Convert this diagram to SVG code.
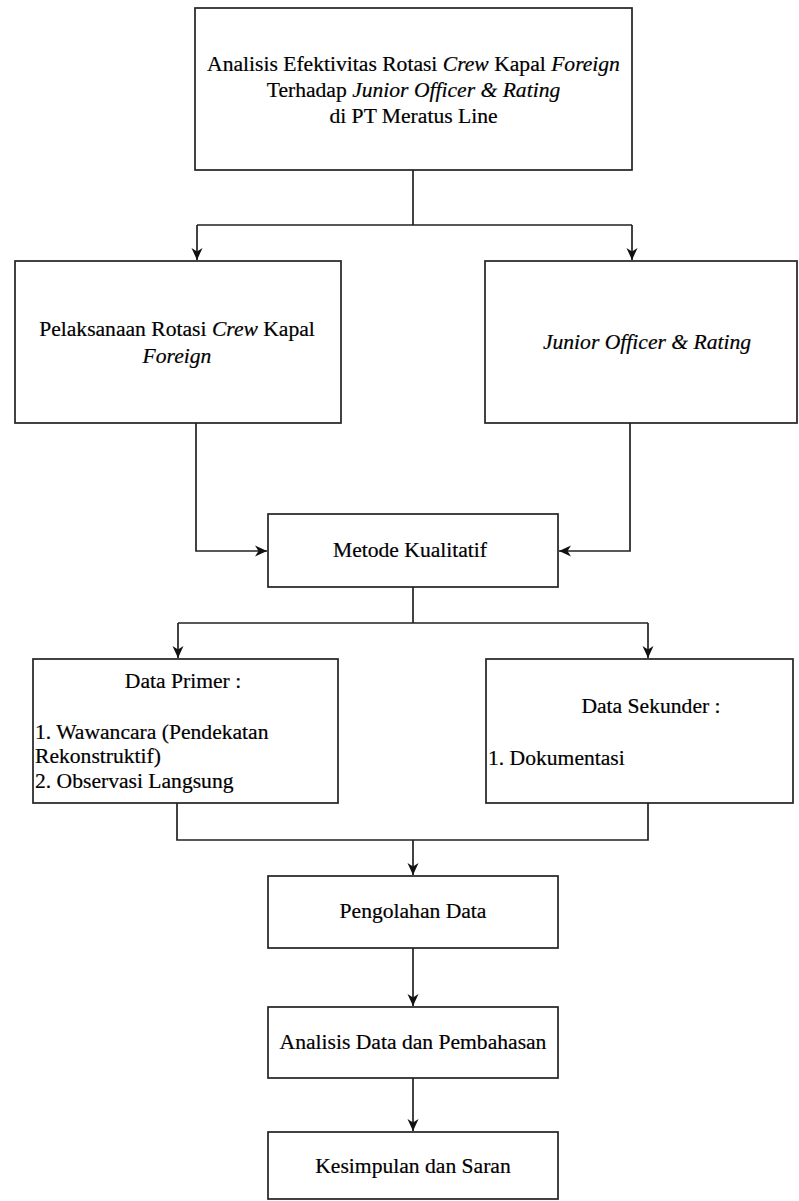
<svg xmlns="http://www.w3.org/2000/svg" width="799" height="1201" viewBox="0 0 799 1201">
<defs>
<marker id="arr" markerWidth="13" markerHeight="13" viewBox="0 0 13 13" refX="12" refY="6.5" orient="auto" markerUnits="userSpaceOnUse">
<path d="M0,1 L12,6.5 L0,12 L3.5,6.5 Z" fill="#111"/>
</marker>
<style>
.box{fill:#fff;stroke:#222;stroke-width:1.7}
.t{font-family:'Liberation Serif','DejaVu Serif',serif;font-size:21.6px;fill:#000;stroke:#000;stroke-width:0.2}
.c{text-anchor:middle}
.i{font-style:italic}
.ln{fill:none;stroke:#222;stroke-width:1.7}
</style>
</defs>
<rect width="799" height="1201" fill="#fff"/>
<g id="connectors">
<path class="ln" d="M413,170 V225 M197,225 H632"/>
<path class="ln" d="M197,225 V260" marker-end="url(#arr)"/>
<path class="ln" d="M632,225 V260" marker-end="url(#arr)"/>
<path class="ln" d="M196,423 V551 H267" marker-end="url(#arr)"/>
<path class="ln" d="M630,423 V551 H559" marker-end="url(#arr)"/>
<path class="ln" d="M413,587 V623 M178,623 H648"/>
<path class="ln" d="M178,623 V658" marker-end="url(#arr)"/>
<path class="ln" d="M648,623 V658" marker-end="url(#arr)"/>
<path class="ln" d="M177,803 V840 H648 V803"/>
<path class="ln" d="M413,840 V875" marker-end="url(#arr)"/>
<path class="ln" d="M413,948 V1006" marker-end="url(#arr)"/>
<path class="ln" d="M413,1078 V1131" marker-end="url(#arr)"/>
</g>
<g id="n1">
<rect class="box" x="195" y="8" width="437" height="162"/>
<text class="t c" x="413.5" y="71">Analisis Efektivitas Rotasi <tspan class="i">Crew</tspan> Kapal <tspan class="i">Foreign</tspan></text>
<text class="t c" x="413.5" y="97">Terhadap <tspan class="i">Junior Officer &amp; Rating</tspan></text>
<text class="t c" x="413.5" y="123">di PT Meratus Line</text>
</g>
<g id="n2">
<rect class="box" x="15" y="261" width="326" height="162"/>
<text class="t c" x="177" y="336">Pelaksanaan Rotasi <tspan class="i">Crew</tspan> Kapal</text>
<text class="t c i" x="177" y="363">Foreign</text>
</g>
<g id="n3">
<rect class="box" x="485" y="261" width="312" height="162"/>
<text class="t c i" x="647" y="349">Junior Officer &amp; Rating</text>
</g>
<g id="n4">
<rect class="box" x="268" y="514" width="290" height="73"/>
<text class="t c" x="410" y="557">Metode Kualitatif</text>
</g>
<g id="n5">
<rect class="box" x="33" y="659" width="305" height="144"/>
<text class="t c" x="183" y="688">Data Primer :</text>
<text class="t" x="35" y="739">1. Wawancara (Pendekatan</text>
<text class="t" x="35" y="763">Rekonstruktif)</text>
<text class="t" x="35" y="788">2. Observasi Langsung</text>
</g>
<g id="n6">
<rect class="box" x="486" y="659" width="307" height="144"/>
<text class="t c" x="651" y="713">Data Sekunder :</text>
<text class="t" x="488" y="765">1. Dokumentasi</text>
</g>
<g id="n7">
<rect class="box" x="268" y="876" width="290" height="72"/>
<text class="t c" x="413" y="918">Pengolahan Data</text>
</g>
<g id="n8">
<rect class="box" x="268" y="1007" width="290" height="71"/>
<text class="t c" x="413" y="1049">Analisis Data dan Pembahasan</text>
</g>
<g id="n9">
<rect class="box" x="268" y="1132" width="290" height="67"/>
<text class="t c" x="413" y="1173">Kesimpulan dan Saran</text>
</g>
</svg>
